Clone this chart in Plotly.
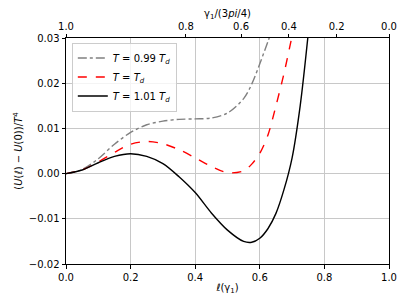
import plotly.graph_objects as go

# ell(gamma_1) positions and potential values
x_099 = [0, 0.05, 0.1, 0.15, 0.2, 0.25, 0.3, 0.35, 0.4, 0.45, 0.5, 0.55, 0.575, 0.6, 0.625, 0.64]
v_099 = [0, 0.0009, 0.0033, 0.0065, 0.0091, 0.0108, 0.0116, 0.0120, 0.0121, 0.0123, 0.0134, 0.0166, 0.0198, 0.0243, 0.0292, 0.0322]

x_100 = [0, 0.05, 0.1, 0.15, 0.2, 0.25, 0.3, 0.35, 0.4, 0.45, 0.5, 0.55, 0.575, 0.6, 0.625, 0.65, 0.675, 0.7]
v_100 = [0, 0.0008, 0.0026, 0.0047, 0.0065, 0.0071, 0.0066, 0.0053, 0.0035, 0.0016, 0.0002, 0.0006, 0.0021, 0.0045, 0.0085, 0.0150, 0.0222, 0.0305]

x_101 = [0, 0.05, 0.1, 0.15, 0.2, 0.25, 0.3, 0.35, 0.4, 0.45, 0.5, 0.55, 0.575, 0.6, 0.625, 0.65, 0.675, 0.7, 0.725, 0.75]
v_101 = [0, 0.0008, 0.0024, 0.0038, 0.0044, 0.0038, 0.0022, -0.0007, -0.0042, -0.0087, -0.0125, -0.0150, -0.0152, -0.0143, -0.0122, -0.0088, -0.0035, 0.0035, 0.0150, 0.031]

# top axis: gamma_1/(3pi/4) tick positions on the ell scale
top_tick_pos = [0.0, 0.371, 0.542, 0.690, 0.838, 1.0]
top_tick_labels = ["1.0", "0.8", "0.6", "0.4", "0.2", "0.0"]

y_ticks = [-0.02, -0.01, 0.0, 0.01, 0.02, 0.03]
x_ticks = [0.0, 0.2, 0.4, 0.6, 0.8, 1.0]

font = dict(family="DejaVu Sans", size=10, color="black")

fig = go.Figure()
fig.add_trace(go.Scatter(x=x_099, y=v_099, mode="lines", line_shape="spline",
                         line=dict(color="gray", width=1.4, dash="dashdot", smoothing=0.9),
                         name="<i>T</i> = 0.99 <i>T<sub>d</sub></i>"))
fig.add_trace(go.Scatter(x=x_100, y=v_100, mode="lines", line_shape="spline",
                         line=dict(color="red", width=1.4, dash="dash", smoothing=0.9),
                         name="<i>T</i> = <i>T<sub>d</sub></i>"))
fig.add_trace(go.Scatter(x=x_101, y=v_101, mode="lines", line_shape="spline",
                         line=dict(color="black", width=1.4, smoothing=0.9),
                         name="<i>T</i> = 1.01 <i>T<sub>d</sub></i>"))
# invisible helper trace so the top axis is drawn
fig.add_trace(go.Scatter(x=top_tick_pos, y=[0] * len(top_tick_pos), xaxis="x2", yaxis="y",
                         mode="markers", marker=dict(opacity=0), showlegend=False,
                         hoverinfo="skip"))

axis_common = dict(showline=True, linecolor="black", linewidth=1, ticks="outside",
                   ticklen=3.5, tickwidth=1, tickcolor="black", zeroline=False,
                   tickfont=font, automargin=False)

fig.update_layout(
    width=399, height=297,
    margin=dict(l=58, r=18, t=30, b=41),
    plot_bgcolor="white", paper_bgcolor="white",
    font=font,
    showlegend=True,
    legend=dict(x=0.018, y=0.98, xanchor="left", yanchor="top",
                bgcolor="rgba(255,255,255,0.8)", bordercolor="#cccccc", borderwidth=1,
                font=dict(family="DejaVu Sans", size=10), itemwidth=30,
                tracegroupgap=0),
    xaxis=dict(range=[0, 1], tickvals=x_ticks, tickformat=".1f", mirror=False,
               showgrid=True, gridcolor="#c8c8c8", gridwidth=0.8,
               title=dict(text="ℓ(γ<sub>1</sub>)", font=font, standoff=2),
               **axis_common),
    xaxis2=dict(range=[0, 1], overlaying="x", side="top", anchor="y",
                tickvals=top_tick_pos, ticktext=top_tick_labels, showgrid=False,
                title=dict(text="γ<sub>1</sub>/(3<i>pi</i>/4)", font=font, standoff=2),
                **axis_common),
    yaxis=dict(range=[-0.02, 0.03], tickvals=y_ticks, tickformat=".2f", mirror=True,
               showgrid=True, gridcolor="#c8c8c8", gridwidth=0.8,
               title=dict(text="(<i>U</i>(ℓ) − <i>U</i>(0))/<i>T</i><sup>4</sup>", font=font, standoff=4),
               **axis_common),
)

fig.write_html("out.html")
